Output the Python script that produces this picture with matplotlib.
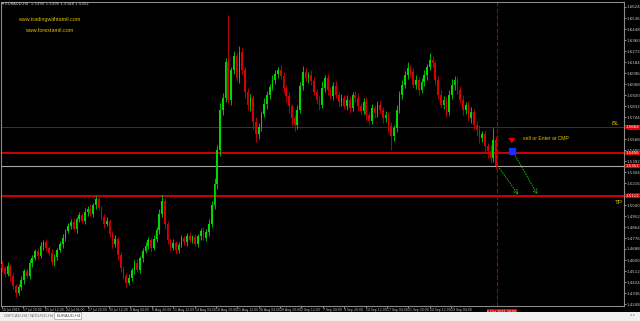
import matplotlib
matplotlib.use('Agg')
import matplotlib.pyplot as plt
import numpy as np
from matplotlib.patches import Rectangle
from matplotlib.transforms import blended_transform_factory

# ---------------- data ----------------
first_open = 1.4568
closes = [
    1.4536, 1.4488, 1.4552, 1.4472, 1.4392, 1.4336, 1.4384, 1.4440, 1.4512, 1.4472,
    1.4576, 1.4616, 1.4672, 1.4632, 1.4712, 1.4744, 1.4696, 1.4656, 1.4584, 1.4624,
    1.4680, 1.4728, 1.4776, 1.4832, 1.4872, 1.4904, 1.4848, 1.4928, 1.4960, 1.4912,
    1.4984, 1.5008, 1.4968, 1.5040, 1.5088, 1.5016, 1.4944, 1.4888, 1.4912, 1.4808,
    1.4728, 1.4768, 1.4640, 1.4536, 1.4472, 1.4416, 1.4456, 1.4520, 1.4576, 1.4520,
    1.4616, 1.4672, 1.4712, 1.4760, 1.4696, 1.4768, 1.4840, 1.4968, 1.5072, 1.4888,
    1.4760, 1.4696, 1.4736, 1.4680, 1.4720, 1.4776, 1.4744, 1.4792, 1.4760, 1.4784,
    1.4728, 1.4792, 1.4832, 1.4776, 1.4824, 1.4888, 1.5040, 1.5208, 1.5480, 1.5800,
    1.5896, 1.6184, 1.5880, 1.6120, 1.6232, 1.6056, 1.6264, 1.6120, 1.5944, 1.5840,
    1.5896, 1.5704, 1.5608, 1.5664, 1.5768, 1.5848, 1.5920, 1.5984, 1.6040, 1.6088,
    1.6120, 1.6072, 1.5976, 1.5912, 1.5832, 1.5736, 1.5680, 1.5800, 1.5992, 1.6104,
    1.6056, 1.6080, 1.6032, 1.5944, 1.5880, 1.5840, 1.5976, 1.6056, 1.5960, 1.5912,
    1.5992, 1.5920, 1.5864, 1.5896, 1.5832, 1.5880, 1.5816, 1.5920, 1.5896, 1.5832,
    1.5792, 1.5864, 1.5760, 1.5712, 1.5816, 1.5776, 1.5840, 1.5800, 1.5736, 1.5760,
    1.5672, 1.5592, 1.5656, 1.5800, 1.5920, 1.6000, 1.6080, 1.6136, 1.6104, 1.6000,
    1.6040, 1.5960, 1.6024, 1.6080, 1.6144, 1.6200, 1.6176, 1.6040, 1.5920, 1.5840,
    1.5880, 1.5784, 1.5920, 1.6000, 1.6040, 1.5960, 1.5880, 1.5800, 1.5840, 1.5736,
    1.5784, 1.5680, 1.5640, 1.5576, 1.5608, 1.5512, 1.5472, 1.5416, 1.5560, 1.5352,
]
upper_wick_pips = [
    24, 16, 32, 16, 24, 16, 24, 32, 16, 24,
    32, 24, 16, 24, 32, 16, 24, 16, 32, 24,
    16, 24, 32, 16, 24, 24, 32, 16, 24, 16,
    32, 24, 40, 16, 24, 32, 16, 24, 32, 16,
    24, 32, 16, 24, 16, 24, 32, 16, 24, 32,
    16, 24, 32, 24, 16, 32, 24, 40, 48, 24,
    24, 16, 32, 16, 24, 24, 16, 24, 32, 16,
    24, 16, 24, 32, 24, 40, 32, 48, 40, 56,
    40, 32, 376, 24, 40, 32, 48, 32, 24, 32,
    32, 24, 40, 32, 24, 48, 32, 24, 40, 32,
    24, 40, 32, 24, 32, 16, 24, 40, 32, 48,
    32, 24, 40, 32, 24, 32, 56, 24, 32, 24,
    32, 40, 24, 32, 24, 40, 32, 24, 32, 40,
    24, 32, 40, 24, 32, 24, 32, 40, 24, 32,
    24, 32, 24, 40, 32, 40, 32, 48, 24, 32,
    40, 24, 32, 40, 24, 56, 32, 24, 32, 40,
    32, 24, 40, 48, 32, 24, 32, 40, 24, 32,
    40, 24, 32, 40, 24, 32, 24, 48, 96, 32,
]
lower_wick_pips = [
    32, 24, 16, 40, 24, 32, 16, 24, 32, 16,
    24, 32, 16, 24, 16, 32, 24, 16, 24, 32,
    24, 16, 32, 24, 16, 24, 16, 32, 24, 16,
    24, 32, 16, 24, 32, 16, 24, 32, 16, 24,
    32, 24, 40, 32, 24, 32, 16, 24, 32, 16,
    24, 32, 16, 24, 32, 16, 24, 32, 24, 40,
    32, 24, 16, 32, 24, 16, 24, 32, 16, 24,
    16, 24, 32, 16, 24, 32, 24, 32, 40, 48,
    40, 32, 24, 40, 32, 24, 40, 32, 48, 40,
    48, 56, 64, 40, 32, 24, 40, 32, 24, 32,
    32, 24, 40, 48, 56, 64, 48, 32, 24, 32,
    24, 40, 32, 24, 32, 40, 24, 32, 40, 24,
    32, 24, 40, 32, 24, 32, 40, 24, 32, 40,
    32, 24, 40, 32, 24, 40, 32, 24, 40, 32,
    48, 112, 40, 32, 24, 32, 24, 32, 40, 24,
    32, 40, 24, 32, 40, 24, 32, 40, 32, 24,
    32, 40, 24, 32, 40, 32, 24, 40, 32, 24,
    40, 32, 48, 40, 32, 48, 56, 40, 32, 24,
]

price_ticks = [1.6624, 1.6536, 1.6448, 1.6360, 1.6272, 1.6184, 1.6096, 1.6008,
               1.5920, 1.5832, 1.5744, 1.5656, 1.5568, 1.5480, 1.5392, 1.5304,
               1.5216, 1.5128, 1.5040, 1.4952, 1.4864, 1.4776, 1.4688, 1.4600,
               1.4512, 1.4424, 1.4336, 1.4248]
time_labels = ["16 Jul 2015", "17 Jul 20:00", "21 Jul 12:00", "24 Jul 04:00",
               "27 Jul 20:00", "30 Jul 12:00", "4 Aug 04:00", "6 Aug 20:00",
               "11 Aug 12:00", "14 Aug 04:00", "18 Aug 20:00", "21 Aug 12:00",
               "26 Aug 04:00", "28 Aug 20:00", "2 Sep 12:00", "7 Sep 04:00",
               "9 Sep 20:00", "14 Sep 12:00", "17 Sep 04:00", "21 Sep 20:00",
               "24 Sep 12:00", "29 Sep 04:00"]
current_time_label = "6 Oct 2015 20:00"

level_bl = 1.5664
level_entry = 1.5456
level_bid = 1.5352
level_tp = 1.5112
entry_marker_price = 1.5472
target_1 = 1.5104
target_2 = 1.5104

# ---------------- figure ----------------
W, H = 640, 321
fig = plt.figure(figsize=(6.4, 3.21), dpi=100, facecolor='black')

def fx(px):
    return px / W

def fy(py):
    return 1 - py / H

# bottom tab bar
fig.patches.append(Rectangle((0, 0), 1, fy(312), transform=fig.transFigure,
                             facecolor='#F0F0F0', edgecolor='none', zorder=0))
fig.patches.append(Rectangle((fx(54), fy(319)), fx(27), (319 - 312) / H, transform=fig.transFigure,
                             facecolor='white', edgecolor='#A0A0A0', lw=0.5, zorder=1))
fig.text(fx(4), fy(315.5), "GBPCAD,H4", fontsize=3.0, color='#707070', va='center', family='Liberation Sans')
fig.text(fx(30), fy(315.5), "NZDUSD,H4", fontsize=3.0, color='#707070', va='center', family='Liberation Sans')
fig.text(fx(57), fy(315.5), "EURAUD,H4", fontsize=3.0, color='#404040', va='center', family='Liberation Sans')
fig.text(fx(27), fy(315.5), "|", fontsize=3.0, color='#A0A0A0', va='center')
fig.text(fx(630), fy(315.5), "◂ ▸", fontsize=2.6, color='#909090', va='center')

ax = fig.add_axes([fx(1), fy(306), fx(623), 304 / H])
ax.set_facecolor('black')

n = len(closes)
x = np.arange(n)
c = np.array(closes)
o = np.array([first_open] + closes[:-1])
hi = np.maximum(o, c) + np.array(upper_wick_pips) * 1e-4
lo = np.minimum(o, c) - np.array(lower_wick_pips) * 1e-4
up = c >= o
cols = np.where(up, '#00D800', '#D80000')

ax.vlines(x, lo, hi, colors=cols, lw=0.6, zorder=3)
body_h = np.maximum(np.abs(c - o), 0.0003)
ax.bar(x, body_h, bottom=np.minimum(o, c), width=0.62, color=cols, linewidth=0, zorder=3)

# horizontal levels
ax.axhline(level_bl, color='#B00000', lw=0.7, zorder=2)
ax.axhline(level_entry, color='#E00000', lw=1.3, zorder=2)
ax.axhline(level_bid, color='#A8A8A8', lw=0.8, zorder=2)
ax.axhline(level_tp, color='#E00000', lw=1.3, zorder=2)

# current bar separator
ax.axvline(n - 0.7, color='#B00000', lw=0.8, ls=(0, (4, 2)), zorder=2)

# signal markers
xm = n + 4.7
ax.plot([xm], [entry_marker_price], marker='s', ms=4.5, color='#1830FF', zorder=5)
ax.annotate('', xy=(xm, entry_marker_price + 0.0038), xytext=(xm, entry_marker_price + 0.0090),
            arrowprops=dict(arrowstyle='simple,head_width=0.5,head_length=0.4,tail_width=0.25',
                            color='#E00000', lw=0), zorder=5)
ax.annotate('', xy=(n + 7.6, target_1), xytext=(n - 0.3, level_bid),
            arrowprops=dict(arrowstyle='->,head_width=0.15,head_length=0.3', color='#00C000',
                            lw=0.7, ls=':'), zorder=4)
ax.annotate('', xy=(n + 14.5, target_2), xytext=(xm + 0.8, entry_marker_price - 0.0020),
            arrowprops=dict(arrowstyle='->,head_width=0.15,head_length=0.3', color='#00C000',
                            lw=0.7, ls=':'), zorder=4)

gold = '#E0C000'
ax.text(n + 8.6, 1.5576, "sell or Enter at CMP", fontsize=3.7, color=gold, va='center', ha='left',
        family='Liberation Sans')
ax.text(221.0, level_bl + 0.0032, "BL", fontsize=4.6, color=gold, va='center', ha='left',
        family='Liberation Sans')
ax.text(222.0, level_tp - 0.0048, "TP", fontsize=4.6, color=gold, va='center', ha='left',
        family='Liberation Sans')

# axes limits
ax.set_xlim(-0.36, 225.36)
ax.set_ylim(1.4232, 1.6664)

for s in ax.spines.values():
    s.set_color('#8A8A8A')
    s.set_linewidth(0.8)

ax.yaxis.tick_right()
ax.set_yticks(price_ticks)
ax.set_yticklabels([f"{v:.4f}" for v in price_ticks])
ax.tick_params(axis='y', labelsize=2.9, colors='#C8C8C8', length=1.2, width=0.5, pad=0.6)

ax.set_xticks([k * 7.75 for k in range(len(time_labels))])
ax.set_xticklabels(time_labels)
ax.tick_params(axis='x', labelsize=2.25, colors='#C8C8C8', length=1.2, width=0.5, pad=0.6)
for lbl in ax.get_xticklabels():
    lbl.set_ha('left')

# price boxes on the right axis
tr = blended_transform_factory(ax.transAxes, ax.transData)
for lv in [level_bl, level_entry, level_bid, level_tp]:
    ax.text(1.003, lv, f"{lv:.4f}", transform=tr, fontsize=2.9, color='white', va='center', ha='left',
            bbox=dict(boxstyle='square,pad=0.12', facecolor='#E00000', edgecolor='none'),
            clip_on=False, zorder=6)

# current time box on time axis
trx = blended_transform_factory(ax.transData, ax.transAxes)
ax.text(n - 4.2, -0.012, current_time_label, transform=trx, fontsize=2.4, color='white', va='top', ha='left',
        bbox=dict(boxstyle='square,pad=0.2', facecolor='#E00000', edgecolor='none'), clip_on=False, zorder=6)

# header and watermarks
fig.text(fx(2), fy(4), "▾ EURAUD,H4  1.5390 1.5395 1.5348 1.5352", fontsize=2.8, color='#D0D0D0',
         va='center', ha='left')
fig.text(fx(49), fy(20), "www.tradingwithtamil.com", fontsize=3.9, color=gold, va='center', ha='center',
         family='Liberation Sans')
fig.text(fx(49), fy(30.5), "www.forextamil.com", fontsize=3.9, color=gold, va='center', ha='center',
         family='Liberation Sans')

fig.savefig('out.png', dpi=100, facecolor='black')
